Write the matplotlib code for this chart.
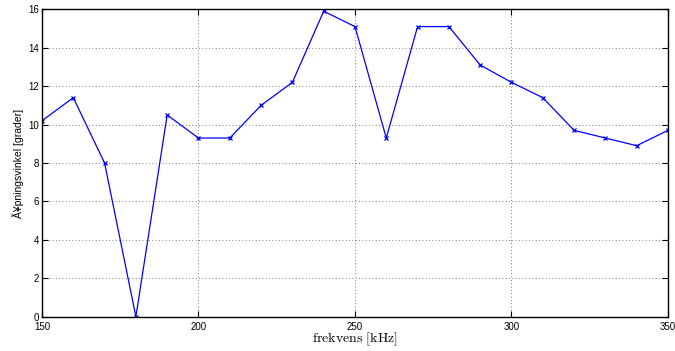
import matplotlib
matplotlib.use("Agg")
import matplotlib.pyplot as plt

# Opening angle vs. frequency
freq_khz = [150, 160, 170, 180, 190, 200, 210, 220, 230, 240, 250,
            260, 270, 280, 290, 300, 310, 320, 330, 340, 350]
angle_deg = [10.2, 11.4, 8.0, 0.0, 10.5, 9.3, 9.3, 11.0, 12.2, 15.9, 15.1,
             9.3, 15.1, 15.1, 13.1, 12.2, 11.4, 9.7, 9.3, 8.9, 9.7]
x_ticks = [150, 200, 250, 300, 350]
y_ticks = [0, 2, 4, 6, 8, 10, 12, 14, 16]

plt.rcParams["mathtext.fontset"] = "cm"
plt.rcParams["font.family"] = ["Liberation Sans", "DejaVu Sans"]

fig = plt.figure(figsize=(6.75, 3.51), dpi=100)
ax = fig.add_axes([0.0622, 0.0977, 0.9274, 0.8758])

ax.plot(freq_khz, angle_deg, color="#0000ff", linewidth=0.9,
        marker="x", markersize=3.5, markeredgewidth=0.9)

ax.set_xlim(150, 350)
ax.set_ylim(0, 16)
ax.set_xticks(x_ticks)
ax.set_yticks(y_ticks)
ax.tick_params(direction="in", length=4, width=0.8, labelsize=7,
               top=True, right=True)
ax.tick_params(axis="x", pad=4)
ax.tick_params(axis="y", pad=2)
for s in ax.spines.values():
    s.set_linewidth(1.0)

ax.grid(True, linestyle=(0, (1, 3)), color="#555555", linewidth=0.6)

ax.set_xlabel(r"$\mathrm{frekvens\ [kHz]}$", fontsize=10, labelpad=-1)
ax.set_ylabel("Ã¥pningsvinkel [grader]", fontsize=7.5, labelpad=3)

fig.savefig("out.png", dpi=100)
